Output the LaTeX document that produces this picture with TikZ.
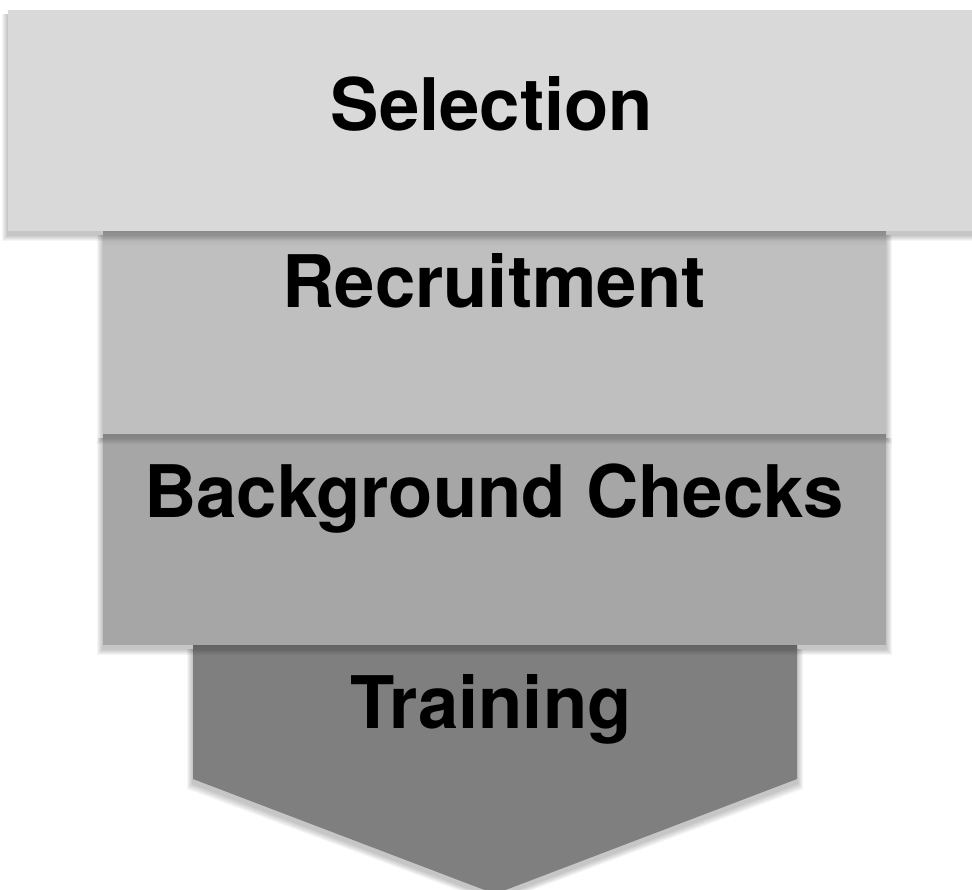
\documentclass[tikz,border=0pt]{standalone}
\usepackage{fontspec}
\setmainfont{TeX Gyre Heros}
\usetikzlibrary{calc}
\definecolor{cSel}{HTML}{D9D9D9}
\definecolor{cRec}{HTML}{BFBFBF}
\definecolor{cBg}{HTML}{A6A6A6}
\definecolor{cTr}{HTML}{7F7F7F}
\tikzset{
  label text/.style={anchor=base, font=\bfseries\fontsize{72.5}{80}\selectfont, text=black, inner sep=0pt},
  shadowlayer/.style={fill=black, opacity=0.04, draw=none},
}
\begin{document}
\begin{tikzpicture}[x=1pt,y=-1pt]
\useasboundingbox (0,0) rectangle (972,889);
\fill[white] (0,0) rectangle (972,889);
% Training
\foreach \s in {1,...,6}{
  \fill[shadowlayer] ($(193,645)+(-\s,4)$) -- ($(797,645)+(\s,4)$) -- ($(797,779)+(\s,4+\s)$) -- ($(495,894)+(0,4+\s)$) -- ($(193,779)+(-\s,4+\s)$) -- cycle;
}
\fill[cTr] (193,645) -- (797,645) -- (797,779) -- (495,894) -- (193,779) -- cycle;
% Background checks shadow + box
\foreach \s in {1,...,6}{
  \fill[shadowlayer] ($(103,434)+(-\s,4)$) rectangle ($(886,645)+(\s,4+\s)$);
}
\fill[cBg] (103,434) rectangle (886,645);
% Recruitment
\foreach \s in {1,...,6}{
  \fill[shadowlayer] ($(103,231)+(-\s,4)$) rectangle ($(886,434)+(\s,4+\s)$);
}
\fill[cRec] (103,231) rectangle (886,434);
\shade[top color=black!45, bottom color=cBg, opacity=0.35] (103,434) rectangle (886,446);
% Selection
\foreach \s in {1,...,6}{
  \fill[shadowlayer] ($(8,10)+(-\s,4)$) rectangle ($(990,231)+(\s,4+\s)$);
}
\fill[cSel] (8,10) rectangle (990,231);
\shade[top color=black!50, bottom color=cRec, opacity=0.35] (103,231) rectangle (886,246);
\shade[top color=black!60, bottom color=cTr, opacity=0.35] (193,645) rectangle (797,656);
% labels
\node[label text] (sel) at (492,130) {Selection};
\node[label text] (rec) at (494,307) {Recruitment};
\node[label text] (bg) at (494,517) {Background Checks};
\node[label text] (tr) at (491,728) {Training};
\end{tikzpicture}
\end{document}
